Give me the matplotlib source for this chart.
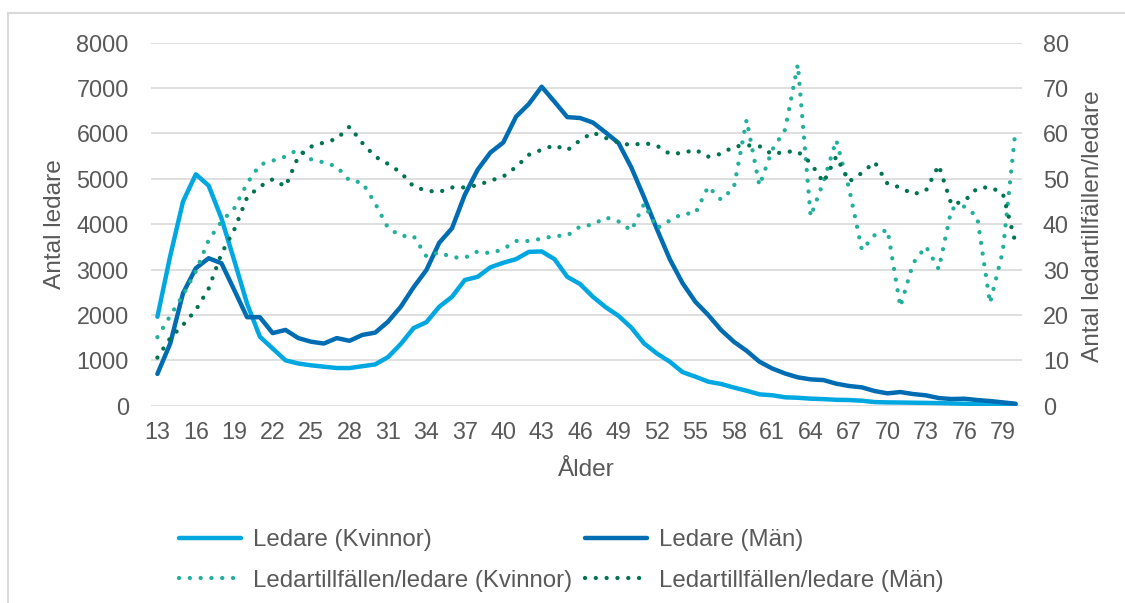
import matplotlib
matplotlib.use("Agg")
import matplotlib.pyplot as plt
from matplotlib.lines import Line2D

plt.rcParams['font.family'] = ['Liberation Sans', 'DejaVu Sans']

ages = list(range(13, 81))

ledare_kvinnor = [1960, 3300, 4500, 5100, 4850, 4130, 3200, 2250, 1520, 1260,
                  1000, 930, 890, 860, 830, 830, 870, 910, 1070, 1360,
                  1710, 1840, 2180, 2400, 2770, 2840, 3050, 3150, 3230, 3390,
                  3400, 3230, 2840, 2680, 2400, 2170, 1980, 1720, 1370, 1150,
                  970, 740, 640, 530, 480, 400, 330, 250, 230, 185,
                  175, 155, 145, 130, 125, 110, 80, 73, 70, 66,
                  62, 58, 50, 44, 37, 35, 30, 22]

ledare_man = [700, 1370, 2480, 3030, 3250, 3140, 2550, 1950, 1950, 1600,
              1670, 1490, 1410, 1370, 1490, 1430, 1560, 1610, 1850, 2180,
              2610, 2990, 3590, 3910, 4650, 5200, 5580, 5800, 6370, 6650,
              7030, 6700, 6360, 6340, 6240, 6020, 5790, 5250, 4590, 3890,
              3230, 2700, 2290, 2000, 1670, 1410, 1210, 970, 820, 710,
              625, 580, 565, 485, 434, 404, 323, 272, 301, 257,
              228, 169, 147, 154, 125, 103, 73, 44]

ratio_kvinnor = [15.1, 19.8, 24.4, 29.6, 36.5, 40.6, 43.5, 49.0, 53.1, 54.0,
                 54.9, 56.5, 54.3, 53.6, 52.7, 49.6, 49.2, 44.6, 39.2, 37.4,
                 37.4, 32.9, 33.8, 32.7, 32.6, 34.0, 33.6, 34.5, 36.3, 36.3,
                 36.8, 37.4, 37.5, 39.5, 39.9, 41.5, 40.6, 38.6, 44.5, 39.1,
                 40.8, 42.3, 42.4, 48.3, 45.4, 48.0, 63.0, 48.5, 56.4, 60.8,
                 75.2, 41.7, 49.4, 58.5, 47.9, 34.3, 37.6, 38.8, 21.8, 31.4,
                 35.1, 30.1, 43.4, 43.9, 41.7, 22.6, 34.0, 61.0]

ratio_man = [10.6, 14.9, 17.8, 21.1, 25.8, 33.5, 38.8, 45.9, 48.3, 49.9,
             48.3, 54.9, 57.1, 58.0, 58.8, 61.5, 57.9, 54.9, 53.3, 51.4,
             48.3, 47.4, 47.1, 48.1, 48.1, 48.6, 49.6, 50.5, 52.6, 55.3,
             56.4, 57.4, 56.3, 58.5, 60.2, 59.0, 58.0, 57.4, 57.9, 57.3,
             55.5, 55.7, 56.4, 54.9, 55.5, 57.1, 57.4, 57.2, 55.4, 56.0,
             56.0, 53.5, 49.2, 54.9, 49.4, 51.3, 53.7, 48.9, 48.1, 46.6,
             47.4, 53.0, 44.3, 45.1, 47.9, 48.2, 46.8, 35.8]

xticks = list(range(13, 80, 3))

c_kv = '#00a7e1'
c_man = '#006cb2'
c_kv_r = '#21b09b'
c_man_r = '#00734f'
txt = '#595959'
grid = '#d9d9d9'
fs_tick = 16.8
fs_title = 17.6
fs_leg = 17.3

fig = plt.figure(figsize=(11.25, 6.03), dpi=100)
ax = fig.add_axes([151 / 1125, 1 - 405.7 / 603, 871 / 1125, 363 / 603])
ax2 = ax.twinx()

l1, = ax.plot(ages, ledare_kvinnor, color=c_kv, lw=3.2, solid_capstyle='round',
              solid_joinstyle='round', label='Ledare (Kvinnor)')
l2, = ax.plot(ages, ledare_man, color=c_man, lw=3.2, solid_capstyle='round',
              solid_joinstyle='round', label='Ledare (Män)')
dots = (0, (0.01, 2.5))
l3, = ax2.plot(ages, ratio_kvinnor, color=c_kv_r, lw=3.1, ls=dots,
               dash_capstyle='round', label='Ledartillfällen/ledare (Kvinnor)')
l4, = ax2.plot(ages, ratio_man, color=c_man_r, lw=3.1, ls=dots,
               dash_capstyle='round', label='Ledartillfällen/ledare (Män)')

ax.set_xlim(12.5, 80.5)
ax.set_ylim(0, 8000)
ax2.set_ylim(0, 80)
ax.set_xticks(xticks)
ax.set_yticks(range(0, 8001, 1000))
ax2.set_yticks(range(0, 81, 10))
ax.yaxis.grid(True, color=grid, lw=1.2)
ax.set_axisbelow(True)
for a in (ax, ax2):
    for s in a.spines.values():
        s.set_visible(False)
ax.tick_params(axis='y', length=0, labelsize=fs_tick, labelcolor=txt, pad=16)
ax.tick_params(axis='x', length=0, labelsize=fs_tick, labelcolor=txt, pad=11)
ax2.tick_params(axis='y', length=0, labelsize=fs_tick, labelcolor=txt, pad=15)

fig.text(55 / 1125, 1 - 224 / 603, 'Antal ledare', rotation=90, ha='center',
         va='center', fontsize=fs_title, color=txt)
fig.text(1093 / 1125, 1 - 226 / 603, 'Antal ledartillfällen/ledare', rotation=90,
         ha='center', va='center', fontsize=fs_title, color=txt)
fig.text(586 / 1125, 1 - 470 / 603, 'Ålder', ha='center', va='center',
         fontsize=fs_title, color=txt)

fig.legend([l1, l3, l2, l4], [h.get_label() for h in (l1, l3, l2, l4)],
           ncol=2, loc='upper left', bbox_to_anchor=(179 / 1125, 1 - 529 / 603),
           frameon=False, fontsize=fs_leg, labelcolor=txt, handlelength=2.6,
           handletextpad=0.5, columnspacing=0.5, labelspacing=0.78,
           borderpad=0, borderaxespad=0)

# chart border
fig.add_artist(Line2D([8 / 1125, 8 / 1125], [0, 1 - 13 / 603], color=grid, lw=1.5))
fig.add_artist(Line2D([8 / 1125, 1], [1 - 13 / 603, 1 - 13 / 603], color=grid, lw=1.5))

fig.savefig('out.png', dpi=100)
